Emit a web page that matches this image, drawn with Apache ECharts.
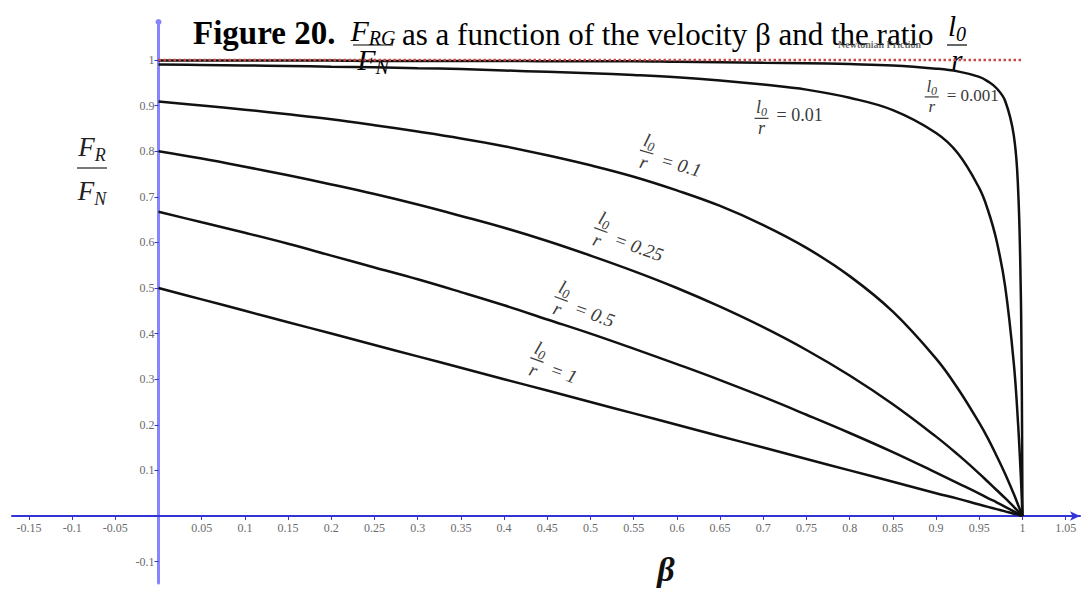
<!DOCTYPE html>
<html>
<head>
<meta charset="utf-8">
<script src="https://cdn.jsdelivr.net/npm/echarts@6/dist/echarts.min.js"></script>
<style>
html, body { margin: 0; padding: 0; background: #fff; }
#chart { width: 1081px; height: 596px; }
</style>
</head>
<body>
<div id="chart"></div>
<script>
// Velocity samples (beta = v/c), denser near 1 where the curves fall steeply
const beta = [0, 0.05, 0.1, 0.15, 0.2, 0.25, 0.3, 0.35, 0.4, 0.45, 0.5, 0.55, 0.6, 0.65, 0.7, 0.75, 0.8, 0.85, 0.9, 0.925, 0.95, 0.96, 0.97, 0.98, 0.99, 0.995, 0.998, 0.999, 0.9995, 1];

// F_R / F_N for each ratio l0/r
const ratio0001 = [0.999, 0.999, 0.999, 0.999, 0.999, 0.998, 0.998, 0.998, 0.998, 0.997, 0.997, 0.997, 0.996, 0.995, 0.994, 0.993, 0.991, 0.988, 0.981, 0.975, 0.963, 0.953, 0.938, 0.910, 0.834, 0.715, 0.500, 0.333, 0.200, 0];
const ratio001 = [0.990, 0.989, 0.988, 0.987, 0.985, 0.984, 0.982, 0.980, 0.977, 0.974, 0.971, 0.967, 0.962, 0.955, 0.946, 0.935, 0.917, 0.890, 0.840, 0.796, 0.719, 0.671, 0.604, 0.503, 0.334, 0.200, 0.091, 0.048, 0.024, 0];
const ratio01 = [0.909, 0.900, 0.891, 0.881, 0.870, 0.857, 0.843, 0.828, 0.811, 0.791, 0.769, 0.744, 0.714, 0.680, 0.638, 0.588, 0.526, 0.448, 0.345, 0.280, 0.204, 0.170, 0.132, 0.092, 0.048, 0.024, 0.010, 0.005, 0.002, 0];
const ratio025 = [0.8, 0.784, 0.766, 0.747, 0.727, 0.706, 0.683, 0.658, 0.632, 0.603, 0.571, 0.537, 0.5, 0.459, 0.414, 0.364, 0.308, 0.245, 0.174, 0.135, 0.093, 0.075, 0.057, 0.039, 0.020, 0.010, 0.004, 0.002, 0.001, 0];
const ratio05 = [0.667, 0.644, 0.621, 0.597, 0.571, 0.545, 0.519, 0.491, 0.462, 0.431, 0.4, 0.367, 0.333, 0.298, 0.261, 0.222, 0.182, 0.140, 0.095, 0.072, 0.049, 0.039, 0.030, 0.020, 0.010, 0.005, 0.002, 0.001, 0.001, 0];
const ratio1 = [0.5, 0.475, 0.45, 0.425, 0.4, 0.375, 0.35, 0.325, 0.3, 0.275, 0.25, 0.225, 0.2, 0.175, 0.15, 0.125, 0.1, 0.075, 0.05, 0.038, 0.025, 0.02, 0.015, 0.01, 0.005, 0.003, 0.001, 0.001, 0, 0];

// Newtonian friction reference level
const newtonBeta = [0, 1];
const newtonValue = [1, 1];

// Tick labels
const xTicks = [-0.15, -0.1, -0.05, 0.05, 0.1, 0.15, 0.2, 0.25, 0.3, 0.35, 0.4, 0.45, 0.5, 0.55, 0.6, 0.65, 0.7, 0.75, 0.8, 0.85, 0.9, 0.95, 1, 1.05];
const yTicks = [-0.1, 0.1, 0.2, 0.3, 0.4, 0.5, 0.6, 0.7, 0.8, 0.9, 1];

const SERIF = '"Liberation Serif", "Times New Roman", serif';
const INK = '#111';
const LABEL_INK = '#3a3a3a';
const X_AXIS_COLOR = '#3434d6';
const Y_AXIS_COLOR = '#8585ff';

// plotting window
const X_MIN = -0.1696, X_MAX = 1.0666;
const Y_MIN = -0.147, Y_MAX = 1.0833;
const GRID = { left: 12, right: 1, top: 22, bottom: 13 };
const WIDTH = 1081, HEIGHT = 596;
const gridW = WIDTH - GRID.left - GRID.right;
const gridH = HEIGHT - GRID.top - GRID.bottom;
// shift each axis (line, ticks and labels) from the grid edge onto the other axis' zero
const xAxisShift = -gridH * (0 - Y_MIN) / (Y_MAX - Y_MIN);
const yAxisShift = -gridW * (0 - X_MIN) / (X_MAX - X_MIN);

const pairs = (xs, ys) => xs.map((x, i) => [x, ys[i]]);

const curves = [
  { name: 'l0/r = 0.001', values: ratio0001 },
  { name: 'l0/r = 0.01', values: ratio001 },
  { name: 'l0/r = 0.1', values: ratio01 },
  { name: 'l0/r = 0.25', values: ratio025 },
  { name: 'l0/r = 0.5', values: ratio05 },
  { name: 'l0/r = 1', values: ratio1 }
];

// Where each curve's l0/r tag sits, in (beta, F_R/F_N) coordinates
const curveTags = [
  { text: '= 0.001', at: [0.895, 0.919], angle: 0, italic: false, size: 17, gap: 15, dy: -1 },
  { text: '= 0.01', at: [0.698, 0.872], angle: 0, italic: false, size: 18, gap: 15, dy: -3 },
  { text: '= 0.1', at: [0.565, 0.798], angle: 16, italic: true, size: 19, gap: 16, dy: 3 },
  { text: '= 0.25', at: [0.512, 0.627], angle: 20, italic: true, size: 19, gap: 16, dy: 3 },
  { text: '= 0.5', at: [0.466, 0.476], angle: 20, italic: true, size: 19, gap: 16, dy: 3 },
  { text: '= 1', at: [0.438, 0.342], angle: 20, italic: true, size: 19, gap: 16, dy: 3 }
];

const chart = echarts.init(document.getElementById('chart'), null, { renderer: 'svg' });

const series = curves.map(c => ({
  name: c.name,
  type: 'line',
  data: pairs(beta, c.values),
  showSymbol: false,
  smooth: 0.4,
  lineStyle: { color: INK, width: 2.5 },
  z: 3
}));
series.push({
  name: 'Newtonian Friction',
  type: 'line',
  data: pairs(newtonBeta, newtonValue),
  showSymbol: false,
  lineStyle: { color: '#c84848', width: 2.5, type: 'dotted' },
  z: 4
});

chart.setOption({
  animation: false,
  backgroundColor: '#fff',
  grid: Object.assign({ containLabel: false }, GRID),
  xAxis: {
    type: 'value',
    min: X_MIN,
    max: X_MAX,
    position: 'bottom',
    offset: xAxisShift,
    axisLine: {
      onZero: false,
      lineStyle: { color: X_AXIS_COLOR, width: 2 },
      symbol: ['none', 'arrow'],
      symbolSize: [7, 10]
    },
    axisTick: { customValues: xTicks, length: 4, lineStyle: { color: X_AXIS_COLOR, width: 1 } },
    axisLabel: { customValues: xTicks, margin: 6, color: '#6a6a6a', fontFamily: SERIF, fontSize: 12 },
    splitLine: { show: false }
  },
  yAxis: {
    type: 'value',
    min: Y_MIN,
    max: Y_MAX,
    position: 'left',
    offset: yAxisShift,
    axisLine: {
      onZero: false,
      lineStyle: { color: Y_AXIS_COLOR, width: 3 },
      symbol: ['none', 'circle'],
      symbolSize: [6, 6]
    },
    axisTick: { customValues: yTicks, length: 4, lineStyle: { color: X_AXIS_COLOR, width: 1 } },
    axisLabel: { customValues: yTicks, margin: 4, color: '#6a6a6a', fontFamily: SERIF, fontSize: 12 },
    splitLine: { show: false }
  },
  series: series
});

// ---- math-style text helpers ----
const measureCtx = document.createElement('canvas').getContext('2d');
function fontStr(size, italic, bold) {
  return (italic ? 'italic ' : '') + (bold ? 'bold ' : '') + size + 'px ' + SERIF;
}
function measure(str, font) {
  measureCtx.font = font;
  return measureCtx.measureText(str).width;
}
function textEl(x, y, text, font, fill, align) {
  return { type: 'text', x: x, y: y, style: { text: text, font: font, fill: fill, textAlign: align || 'left', textVerticalAlign: 'middle' } };
}
// a letter with a lowered index, centred on (cx, cy)
function subTerm(cx, cy, base, sub, size, fill, italic) {
  const bf = fontStr(size, italic);
  const sf = fontStr(Math.round(size * 0.68), italic);
  const bw = measure(base, bf);
  const sw = sub ? measure(sub, sf) : 0;
  const x0 = cx - (bw + sw) / 2;
  const out = [textEl(x0, cy, base, bf, fill)];
  if (sub) out.push(textEl(x0 + bw, cy + size * 0.28, sub, sf, fill));
  return out;
}
// stacked fraction with the bar centred on (cx, barY)
function fraction(cx, barY, num, den, size, fill, half, up, down) {
  return [
    ...subTerm(cx, barY - up, num[0], num[1], size, fill, true),
    { type: 'line', shape: { x1: cx - half, y1: barY, x2: cx + half, y2: barY }, style: { stroke: fill, lineWidth: 1.2 } },
    ...subTerm(cx, barY + down, den[0], den[1], size, fill, true)
  ];
}

function curveTag(def) {
  const p = chart.convertToPixel({ gridIndex: 0 }, def.at);
  const s = def.size;
  const children = [
    ...fraction(0, 0, ['l', '0'], ['r', ''], s, LABEL_INK, 7, s * 0.62, s * 0.55),
    textEl(def.gap, def.dy, def.text, fontStr(s, def.italic), LABEL_INK)
  ];
  return { type: 'group', x: p[0], y: p[1], rotation: -def.angle * Math.PI / 180, children: children };
}

const titleEls = [
  textEl(193, 33, 'Figure 20.', fontStr(33, false, true), '#000'),
  ...fraction(373, 45, ['F', 'RG'], ['F', 'N'], 30, '#000', 20, 15, 14),
  textEl(402, 34, 'as a function of the velocity \u03b2 and the ratio', fontStr(31), '#000'),
  ...fraction(957, 45, ['l', '0'], ['r', ''], 29, '#000', 10, 19, 15),
  textEl(838, 44, 'Newtonian Friction', fontStr(10, false, true), 'rgba(70,70,70,0.8)')
];

const axisNameEls = [
  ...fraction(92, 168, ['F', 'R'], ['F', 'N'], 27, '#222', 15, 21, 23),
  textEl(666, 569, '\u03b2', fontStr(34, true, true), '#111', 'center')
];

chart.setOption({
  graphic: { elements: [...titleEls, ...axisNameEls, ...curveTags.map(curveTag)] }
});
</script>
</body>
</html>
